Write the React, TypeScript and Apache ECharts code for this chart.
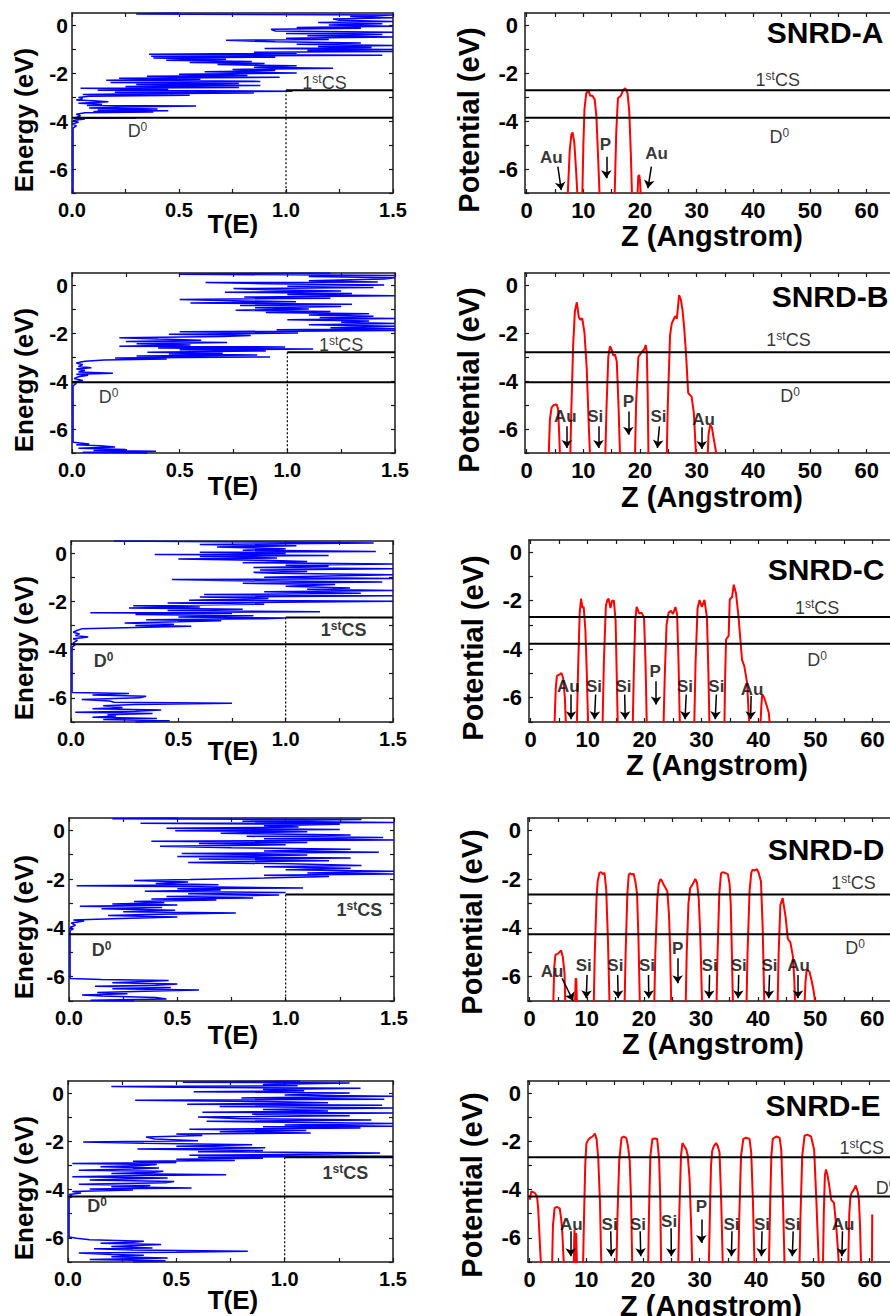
import React, { useEffect, useRef } from 'react';
import * as echarts from 'echarts';

const FONT = '"Liberation Sans", Arial, Helvetica, sans-serif';

// ---- levels (eV) per system A..E
const csLevel = [-2.72, -2.8, -2.67, -2.64, -2.66];
const d0Level = [-3.86, -4.05, -3.78, -4.26, -4.29];

// ---- tick values
const eTicks = [-6, -4, -2, 0];
const eMinor = [-7, -6, -5, -4, -3, -2, -1, 0];
const tTicks = [0, 0.5, 1, 1.5];
const tMinor = [0, 0.25, 0.5, 0.75, 1, 1.25, 1.5];
const zTicks = [0, 10, 20, 30, 40, 50, 60];
const zMinor = [0, 5, 10, 15, 20, 25, 30, 35, 40, 45, 50, 55, 60, 65];

// ---- transmission spectra [E, T]
const transA = [
  [-7.0, 0.005], [-4.3, 0.005], [-4.2, 0.02], [-4.12, 0.0], [-4.05, 0.03], [-3.98, 0.005], [-3.92, 0.06], [-3.89, 0.01],
  [-3.87, 0.3], [-3.85, 0.02], [-3.78, 0.04], [-3.72, 0.02], [-3.66, 0.06], [-3.62, 0.38], [-3.6, 0.1], [-3.57, 0.45],
  [-3.54, 0.12], [-3.5, 0.4], [-3.46, 0.08], [-3.42, 0.25], [-3.38, 0.58], [-3.35, 0.07], [-3.3, 0.14], [-3.26, 0.03],
  [-3.2, 0.17], [-3.16, 0.1], [-3.12, 0.02], [-3.06, 0.05], [-3.02, 0.03], [-2.97, 0.08], [-2.93, 0.55], [-2.9, 0.05],
  [-2.86, 0.3], [-2.83, 0.85], [-2.8, 0.2], [-2.76, 1.03], [-2.72, 0.12], [-2.68, 0.45], [-2.64, 0.04], [-2.6, 0.78],
  [-2.56, 0.25], [-2.52, 0.88], [-2.48, 0.3], [-2.44, 0.78], [-2.4, 0.18], [-2.35, 0.88], [-2.3, 0.16], [-2.26, 0.6],
  [-2.22, 0.22], [-2.18, 0.97], [-2.14, 0.35], [-2.1, 0.82], [-2.05, 0.5], [-2.0, 1.05], [-1.95, 0.62], [-1.9, 0.95],
  [-1.85, 0.75], [-1.8, 1.22], [-1.76, 0.85], [-1.7, 1.05], [-1.65, 0.68], [-1.6, 0.9], [-1.56, 0.55], [-1.52, 0.84],
  [-1.47, 0.44], [-1.43, 0.72], [-1.38, 0.38], [-1.34, 0.95], [-1.3, 0.37], [-1.26, 1.45], [-1.22, 0.36], [-1.18, 1.05],
  [-1.14, 0.85], [-1.1, 1.5], [-1.06, 1.1], [-1.02, 1.5], [-0.98, 0.9], [-0.94, 1.4], [-0.9, 1.15], [-0.85, 1.5],
  [-0.8, 1.05], [-0.75, 1.35], [-0.7, 0.95], [-0.64, 0.72], [-0.6, 1.2], [-0.55, 1.0], [-0.5, 1.5], [-0.45, 1.1],
  [-0.4, 1.45], [-0.35, 1.0], [-0.3, 1.5], [-0.25, 0.95], [-0.18, 0.93], [-0.14, 1.35], [-0.1, 1.05], [-0.05, 1.5],
  [0.0, 1.2], [0.05, 1.45], [0.1, 1.15], [0.15, 1.5], [0.2, 1.25], [0.25, 1.22], [0.3, 1.5], [0.35, 1.3],
  [0.42, 1.5], [0.46, 0.3], [0.5, 0.5],
];
const transB = [
  [-7.0, 0.35], [-6.97, 0.05], [-6.93, 0.39], [-6.9, 0.1], [-6.85, 0.25], [-6.8, 0.03], [-6.75, 0.2], [-6.7, 0.13],
  [-6.66, 0.02], [-6.62, 0.08], [-6.55, 0.005], [-4.2, 0.005], [-4.1, 0.02], [-4.05, 0.0], [-3.98, 0.05], [-3.9, 0.01],
  [-3.82, 0.03], [-3.76, 0.075], [-3.72, 0.02], [-3.68, 0.19], [-3.62, 0.03], [-3.55, 0.06], [-3.5, 0.02], [-3.45, 0.09],
  [-3.4, 0.03], [-3.32, 0.05], [-3.25, 0.02], [-3.18, 0.06], [-3.12, 0.15], [-3.08, 0.44], [-3.04, 0.2], [-3.0, 0.92],
  [-2.96, 0.3], [-2.92, 0.86], [-2.88, 0.45], [-2.84, 0.7], [-2.8, 0.35], [-2.75, 0.9], [-2.7, 0.5], [-2.67, 1.12],
  [-2.63, 0.4], [-2.58, 0.99], [-2.55, 0.22], [-2.5, 0.55], [-2.45, 0.3], [-2.4, 0.72], [-2.35, 0.25], [-2.3, 0.6],
  [-2.25, 0.4], [-2.2, 0.22], [-2.15, 0.7], [-2.1, 0.83], [-2.05, 0.45], [-2.0, 1.05], [-1.95, 0.5], [-1.9, 1.5],
  [-1.86, 0.95], [-1.82, 1.5], [-1.78, 1.2], [-1.72, 1.5], [-1.66, 1.1], [-1.6, 1.5], [-1.55, 1.25], [-1.5, 1.38],
  [-1.45, 1.0], [-1.4, 1.5], [-1.35, 1.15], [-1.3, 1.4], [-1.25, 1.1], [-1.2, 1.38], [-1.15, 0.9], [-1.1, 1.2],
  [-1.05, 0.76], [-1.0, 1.1], [-0.95, 0.85], [-0.9, 1.25], [-0.85, 0.78], [-0.8, 1.3], [-0.75, 0.55], [-0.7, 1.04],
  [-0.65, 0.7], [-0.6, 0.5], [-0.55, 1.2], [-0.5, 0.8], [-0.45, 1.5], [-0.4, 1.0], [-0.35, 1.3], [-0.3, 0.71],
  [-0.25, 1.25], [-0.2, 0.9], [-0.15, 0.75], [-0.1, 1.4], [-0.05, 1.0], [0.0, 1.45], [0.05, 0.9], [0.1, 0.62],
  [0.13, 1.42], [0.18, 1.1], [0.25, 1.45], [0.3, 1.5], [0.35, 1.1], [0.4, 1.5], [0.45, 0.5], [0.5, 1.2],
];
const transC = [
  [-7.0, 0.3], [-6.95, 0.46], [-6.9, 0.15], [-6.85, 0.4], [-6.8, 0.1], [-6.75, 0.21], [-6.7, 0.17], [-6.65, 0.38],
  [-6.6, 0.02], [-6.55, 0.3], [-6.5, 0.42], [-6.45, 0.1], [-6.4, 0.24], [-6.33, 0.15], [-6.27, 0.3], [-6.22, 0.75],
  [-6.18, 0.2], [-6.13, 0.18], [-6.07, 0.05], [-6.0, 0.32], [-5.93, 0.35], [-5.88, 0.1], [-5.82, 0.27], [-5.78, 0.005],
  [-3.9, 0.005], [-3.8, 0.02], [-3.72, 0.01], [-3.62, 0.03], [-3.55, 0.01], [-3.48, 0.08], [-3.42, 0.02], [-3.35, 0.04],
  [-3.28, 0.01], [-3.2, 0.03], [-3.14, 0.05], [-3.1, 0.2], [-3.07, 0.35], [-3.03, 0.56], [-3.0, 0.3], [-2.95, 0.48],
  [-2.9, 0.25], [-2.85, 0.5], [-2.8, 0.7], [-2.76, 0.35], [-2.72, 0.9], [-2.69, 1.0], [-2.65, 0.5], [-2.6, 0.85],
  [-2.55, 0.3], [-2.5, 0.75], [-2.47, 0.09], [-2.43, 1.16], [-2.38, 0.45], [-2.33, 0.8], [-2.28, 0.27], [-2.23, 0.6],
  [-2.18, 0.29], [-2.12, 0.9], [-2.07, 0.45], [-2.0, 1.5], [-1.95, 0.55], [-1.88, 0.92], [-1.82, 0.6], [-1.77, 1.5],
  [-1.72, 0.62], [-1.67, 1.35], [-1.6, 0.9], [-1.55, 1.5], [-1.5, 1.1], [-1.45, 1.3], [-1.38, 1.0], [-1.3, 1.23],
  [-1.25, 0.8], [-1.2, 1.45], [-1.14, 0.7], [-1.1, 0.47], [-1.05, 1.5], [-1.0, 0.9], [-0.95, 1.2], [-0.9, 1.5],
  [-0.84, 0.95], [-0.8, 0.85], [-0.76, 1.1], [-0.7, 0.88], [-0.65, 1.5], [-0.6, 0.85], [-0.55, 1.2], [-0.5, 1.0],
  [-0.45, 1.5], [-0.4, 0.8], [-0.35, 1.1], [-0.3, 0.9], [-0.25, 0.5], [-0.2, 0.96], [-0.14, 0.6], [-0.1, 1.2],
  [-0.06, 0.39], [-0.02, 1.0], [0.03, 0.6], [0.07, 1.42], [0.12, 0.8], [0.18, 1.0], [0.25, 0.68], [0.3, 1.05],
  [0.35, 0.6], [0.42, 1.41], [0.46, 0.9], [0.5, 0.2],
];
const transD = [
  [-7.0, 0.3], [-6.97, 0.1], [-6.92, 0.45], [-6.86, 0.4], [-6.8, 0.15], [-6.75, 0.06], [-6.7, 0.27], [-6.65, 0.13],
  [-6.6, 0.35], [-6.55, 0.6], [-6.5, 0.2], [-6.45, 0.47], [-6.4, 0.12], [-6.35, 0.4], [-6.3, 0.5], [-6.25, 0.2],
  [-6.2, 0.35], [-6.16, 0.46], [-6.12, 0.15], [-6.08, 0.005], [-4.1, 0.005], [-4.05, 0.02], [-3.98, 0.005], [-3.9, 0.03],
  [-3.8, 0.01], [-3.72, 0.07], [-3.68, 0.02], [-3.63, 0.2], [-3.56, 0.5], [-3.5, 0.18], [-3.45, 0.35], [-3.39, 0.77],
  [-3.34, 0.25], [-3.28, 0.49], [-3.22, 0.15], [-3.17, 0.43], [-3.12, 0.05], [-3.07, 0.5], [-3.02, 0.2], [-2.97, 0.44],
  [-2.92, 0.3], [-2.86, 0.68], [-2.82, 0.38], [-2.78, 0.85], [-2.72, 0.45], [-2.66, 0.97], [-2.6, 0.55], [-2.55, 1.0],
  [-2.5, 0.35], [-2.45, 0.7], [-2.4, 0.5], [-2.37, 1.08], [-2.32, 0.6], [-2.28, 0.035], [-2.24, 0.69], [-2.18, 0.4],
  [-2.12, 0.55], [-2.06, 0.3], [-2.02, 0.56], [-1.96, 0.9], [-1.9, 1.2], [-1.85, 0.9], [-1.8, 1.5], [-1.75, 1.1],
  [-1.68, 1.5], [-1.62, 1.0], [-1.56, 1.3], [-1.5, 0.9], [-1.45, 1.35], [-1.38, 1.02], [-1.32, 0.55], [-1.25, 1.2],
  [-1.18, 0.6], [-1.14, 1.3], [-1.08, 0.5], [-1.02, 1.1], [-0.96, 0.52], [-0.9, 1.43], [-0.85, 0.9], [-0.78, 1.3],
  [-0.72, 0.75], [-0.66, 0.42], [-0.6, 1.0], [-0.55, 0.6], [-0.5, 1.1], [-0.45, 0.38], [-0.4, 1.5], [-0.35, 0.9],
  [-0.3, 1.45], [-0.25, 0.82], [-0.2, 1.3], [-0.12, 0.7], [-0.06, 1.1], [-0.02, 0.49], [0.03, 1.25], [0.08, 0.45],
  [0.13, 1.06], [0.18, 0.9], [0.24, 1.25], [0.28, 0.33], [0.32, 1.5], [0.37, 0.8], [0.44, 1.35], [0.47, 0.2], [0.5, 0.5],
];
const transE = [
  [-7.0, 0.3], [-6.95, 0.45], [-6.9, 0.1], [-6.83, 0.46], [-6.78, 0.2], [-6.72, 0.35], [-6.69, 0.2], [-6.63, 0.05],
  [-6.6, 0.5], [-6.55, 0.83], [-6.5, 0.3], [-6.45, 0.12], [-6.42, 0.39], [-6.36, 0.2], [-6.28, 0.43], [-6.22, 0.15],
  [-6.18, 0.3], [-6.14, 0.35], [-6.08, 0.1], [-6.02, 0.04], [-5.96, 0.005], [-4.35, 0.005], [-4.28, 0.02], [-4.2, 0.005],
  [-4.14, 0.06], [-4.08, 0.02], [-4.02, 0.3], [-3.98, 0.1], [-3.93, 0.57], [-3.88, 0.2], [-3.83, 0.38], [-3.78, 0.05],
  [-3.72, 0.45], [-3.66, 0.49], [-3.6, 0.1], [-3.55, 0.3], [-3.52, 0.46], [-3.47, 0.02], [-3.42, 0.35], [-3.38, 0.73],
  [-3.33, 0.2], [-3.28, 0.4], [-3.24, 0.44], [-3.2, 0.05], [-3.15, 0.3], [-3.1, 0.42], [-3.05, 0.15], [-3.0, 0.35],
  [-2.96, 0.41], [-2.92, 0.02], [-2.88, 0.5], [-2.83, 0.3], [-2.79, 0.77], [-2.74, 0.5], [-2.7, 0.9], [-2.66, 0.6],
  [-2.62, 1.5], [-2.58, 0.56], [-2.53, 1.2], [-2.48, 1.44], [-2.43, 0.6], [-2.38, 0.9], [-2.32, 0.32], [-2.27, 0.91],
  [-2.2, 0.5], [-2.14, 0.85], [-2.08, 0.35], [-2.03, 0.07], [-1.98, 0.6], [-1.9, 0.4], [-1.82, 0.36], [-1.76, 0.62],
  [-1.7, 0.5], [-1.65, 1.12], [-1.6, 0.7], [-1.55, 1.1], [-1.5, 0.56], [-1.45, 1.35], [-1.4, 0.9], [-1.38, 1.5],
  [-1.32, 1.0], [-1.26, 1.5], [-1.2, 0.9], [-1.17, 0.64], [-1.12, 1.4], [-1.06, 0.8], [-0.99, 0.6], [-0.94, 1.3],
  [-0.88, 0.85], [-0.83, 1.5], [-0.8, 0.62], [-0.74, 1.2], [-0.68, 0.9], [-0.62, 1.5], [-0.56, 0.7], [-0.5, 1.45],
  [-0.46, 0.55], [-0.4, 1.2], [-0.35, 0.9], [-0.3, 0.31], [-0.26, 1.46], [-0.2, 0.8], [-0.13, 1.5], [-0.08, 1.0],
  [0.0, 1.3], [0.05, 0.58], [0.1, 1.09], [0.15, 0.9], [0.2, 1.35], [0.24, 0.5], [0.27, 0.2], [0.3, 1.06],
  [0.36, 0.9], [0.42, 1.3], [0.45, 0.53], [0.5, 1.07],
];

// ---- potential profiles [Z, V]
const potA = [
  [7.2, -7.3], [7.6, -5.2], [7.9, -4.55], [8.1, -4.48], [8.4, -4.9], [8.7, -6.0], [9.0, -7.3],
  [9.8, -7.3], [10.0, -5.0], [10.2, -3.5], [10.5, -2.85], [10.9, -2.72], [11.2, -2.95], [11.6, -2.95], [12.0, -3.1],
  [12.3, -3.8], [12.6, -5.5], [12.9, -7.3],
  [15.5, -7.3], [15.8, -4.5], [16.1, -3.05], [16.6, -2.95], [17.0, -2.72], [17.4, -2.63], [17.8, -2.85], [18.1, -3.6],
  [18.4, -5.5], [18.6, -7.3],
  [19.5, -7.3], [19.7, -6.3], [19.85, -6.25], [20.0, -6.5], [20.15, -7.3],
];
const potB = [
  [3.85, -7.3], [4.1, -5.6], [4.4, -5.1], [4.8, -5.0], [5.3, -4.98], [5.55, -5.2], [5.75, -6.3], [5.9, -7.3],
  [7.67, -7.3], [7.9, -5.0], [8.2, -2.5], [8.5, -1.1], [8.85, -0.72], [9.2, -1.35], [9.5, -1.45], [9.8, -1.38],
  [10.2, -2.0], [10.6, -3.5], [10.9, -5.5], [11.2, -7.3],
  [13.85, -7.3], [14.1, -5.0], [14.4, -3.0], [14.7, -2.55], [15.0, -2.7], [15.3, -2.95], [15.6, -2.9], [15.9, -3.2],
  [16.2, -5.0], [16.5, -7.3],
  [19.1, -7.3], [19.3, -5.0], [19.7, -3.0], [20.3, -2.8], [20.7, -2.7], [21.0, -2.5], [21.2, -2.8], [21.35, -4.5], [21.5, -7.3],
  [24.7, -7.3], [24.9, -5.0], [25.3, -2.1], [25.6, -1.6], [25.9, -1.45], [26.2, -1.3], [26.5, -1.4], [26.9, -0.42],
  [27.2, -0.6], [27.5, -1.05], [27.8, -1.8], [28.1, -2.8], [28.5, -4.5], [29.1, -4.65], [29.5, -5.34], [29.8, -6.7], [29.9, -7.3],
  [31.9, -7.3], [32.1, -6.2], [32.4, -5.82], [32.7, -5.95], [33.0, -6.4], [33.3, -6.8], [33.6, -7.3],
];
const potC = [
  [4.15, -7.3], [4.4, -5.6], [4.6, -5.1], [5.0, -5.05], [5.4, -4.98], [5.7, -5.2], [6.0, -6.0], [6.2, -7.3],
  [8.08, -7.3], [8.3, -5.0], [8.6, -2.5], [8.84, -1.92], [9.1, -2.3], [9.3, -2.25], [9.6, -3.2], [9.85, -5.0], [10.1, -7.3],
  [12.6, -7.3], [12.85, -4.5], [13.2, -2.2], [13.5, -1.95], [13.7, -1.93], [14.0, -2.3], [14.3, -2.0], [14.6, -2.0],
  [14.9, -2.8], [15.1, -5.0], [15.3, -7.3],
  [17.9, -7.3], [18.1, -5.0], [18.35, -2.8], [18.6, -2.26], [18.85, -2.4], [19.05, -2.53], [19.5, -2.5], [19.9, -2.7],
  [20.15, -4.5], [20.4, -7.3],
  [23.3, -7.3], [23.55, -5.0], [23.85, -3.0], [24.2, -2.5], [24.6, -2.42], [25.0, -2.55], [25.4, -2.26], [25.7, -2.55],
  [25.95, -4.5], [26.2, -7.3],
  [28.7, -7.3], [28.95, -4.5], [29.3, -2.3], [29.65, -1.97], [30.05, -2.26], [30.5, -1.97], [30.95, -2.7], [31.2, -5.0], [31.4, -7.3],
  [34.0, -7.3], [34.15, -5.0], [34.3, -3.6], [34.75, -3.45], [34.95, -1.95], [35.35, -1.85], [35.65, -1.34], [36.05, -1.7],
  [36.5, -2.7], [37.1, -4.43], [37.5, -4.7], [38.0, -5.4], [38.4, -7.3],
  [40.3, -7.3], [40.5, -6.3], [40.65, -5.86], [41.0, -6.0], [41.4, -6.3], [41.8, -6.62], [42.05, -7.3],
];
const potD = [
  [4.1, -7.3], [4.3, -5.6], [4.5, -5.11], [5.0, -5.05], [5.5, -4.93], [5.8, -5.2], [6.1, -5.86], [6.25, -7.3],
  [7.9, -7.3], [8.05, -6.07], [8.15, -6.1], [8.3, -7.3],
  [11.2, -7.3], [11.4, -5.0], [11.7, -2.8], [11.9, -2.1], [12.2, -1.75], [12.5, -1.72], [12.8, -1.8], [13.1, -1.75],
  [13.4, -2.44], [13.7, -4.5], [14.0, -7.3],
  [16.6, -7.3], [16.8, -5.0], [17.1, -2.6], [17.35, -1.82], [17.6, -1.76], [17.9, -1.82], [18.2, -1.78], [18.5, -2.1],
  [18.8, -2.6], [19.05, -4.5], [19.3, -7.3],
  [21.8, -7.3], [22.0, -5.0], [22.35, -2.8], [22.6, -2.2], [22.9, -2.0], [23.2, -2.1], [23.5, -2.25], [24.1, -2.5],
  [24.4, -3.5], [24.6, -5.0], [24.8, -7.3],
  [27.3, -7.3], [27.5, -5.0], [27.8, -3.0], [28.1, -2.37], [28.5, -2.23], [29.0, -2.0], [29.3, -2.15], [29.6, -2.8],
  [29.9, -4.5], [30.2, -7.3],
  [32.7, -7.3], [32.9, -5.0], [33.2, -2.6], [33.5, -1.78], [33.8, -1.72], [34.2, -1.75], [34.7, -1.8], [35.0, -2.2],
  [35.2, -3.0], [35.4, -5.0], [35.6, -7.3],
  [37.95, -7.3], [38.15, -5.0], [38.5, -2.5], [38.8, -1.75], [39.0, -1.62], [39.4, -1.65], [39.8, -1.6], [40.1, -1.75],
  [40.5, -2.1], [40.8, -4.0], [41.1, -7.3],
  [43.4, -7.3], [43.6, -5.0], [43.9, -3.06], [44.3, -2.78], [44.8, -3.53], [45.2, -4.45], [45.65, -4.6], [46.1, -5.18],
  [46.35, -6.2], [46.5, -7.3],
  [48.1, -7.3], [48.3, -6.2], [48.5, -5.73], [49.0, -5.8], [49.4, -6.2], [49.7, -6.55], [50.15, -7.3],
];
const potE = [
  [0.0, -4.42], [0.3, -4.07], [0.9, -4.14], [1.3, -4.28], [1.5, -4.8], [1.65, -5.52], [1.85, -6.5], [2.06, -7.3],
  [3.94, -7.3], [4.1, -5.5], [4.4, -4.76], [4.8, -4.72], [5.3, -4.78], [5.55, -5.2], [5.76, -5.79], [6.06, -7.3],
  [7.75, -7.3], [7.9, -5.65], [8.05, -7.3], [8.2, -5.8], [8.35, -7.3],
  [9.4, -7.3], [9.6, -5.0], [9.8, -3.0], [10.0, -2.1], [10.3, -1.95], [10.6, -1.87], [11.1, -1.8], [11.5, -1.68],
  [11.8, -1.9], [12.1, -2.7], [12.4, -4.5], [12.65, -7.3],
  [15.3, -7.3], [15.5, -5.0], [15.8, -2.8], [16.2, -1.86], [16.6, -1.8], [17.05, -1.86], [17.35, -2.2], [17.65, -2.8],
  [17.9, -4.5], [18.1, -7.3],
  [20.9, -7.3], [21.05, -5.0], [21.3, -2.6], [21.65, -1.9], [22.1, -1.88], [22.5, -1.9], [22.85, -2.76], [23.05, -4.5], [23.2, -7.3],
  [26.2, -7.3], [26.4, -5.0], [26.7, -2.6], [26.95, -2.07], [27.3, -2.2], [27.65, -2.35], [27.9, -2.6], [28.2, -3.5],
  [28.5, -5.5], [28.7, -7.3],
  [31.6, -7.3], [31.8, -5.0], [32.0, -3.0], [32.2, -2.4], [32.5, -2.2], [32.9, -2.07], [33.2, -2.2], [33.5, -2.45],
  [33.8, -4.5], [34.1, -7.3],
  [36.8, -7.3], [37.0, -5.0], [37.3, -2.6], [37.7, -1.9], [38.2, -1.85], [38.8, -1.9], [39.1, -2.48], [39.4, -4.5], [39.7, -7.3],
  [42.2, -7.3], [42.4, -5.0], [42.65, -2.6], [42.9, -1.9], [43.5, -1.8], [44.1, -1.85], [44.4, -2.35], [44.7, -4.5], [45.0, -7.3],
  [47.6, -7.3], [47.8, -5.0], [48.1, -2.6], [48.5, -1.77], [49.0, -1.72], [49.65, -1.8], [50.2, -2.35], [50.6, -4.5], [51.05, -7.3],
  [51.75, -7.3], [51.9, -5.0], [52.1, -3.4], [52.3, -3.17], [52.55, -3.4], [52.8, -3.73], [53.2, -4.42], [53.7, -4.55],
  [54.1, -5.52], [54.4, -6.5], [54.6, -7.3],
  [56.2, -7.3], [56.4, -5.0], [56.6, -4.3], [56.8, -4.14], [57.2, -4.0], [57.55, -3.83], [57.9, -4.1], [58.1, -4.42],
  [58.3, -5.5], [58.5, -7.3],
  [60.4, -7.3], [60.45, -5.03],
];

// ---- atom annotations (label position and arrow start/end) per panel
const atomsA = ['Au', 'P', 'Au'];
const atomPosA = [[4.35, -5.51], [13.9, -4.96], [22.9, -5.35]];
const arrowsA = [[5.5, -5.9, 6.1, -6.88], [14.05, -5.49, 14.05, -6.39], [22.0, -5.9, 21.4, -6.8]];
const atomsB = ['Au', 'Si', 'P', 'Si', 'Au'];
const atomPosB = [[6.8, -5.48], [12.1, -5.47], [17.95, -4.85], [23.25, -5.47], [31.2, -5.61]];
const arrowsB = [[7.09, -5.89, 7.09, -6.79], [12.67, -5.89, 12.67, -6.79], [17.95, -5.27, 17.95, -6.24],
  [23.42, -5.89, 23.07, -6.79], [30.9, -5.93, 30.9, -6.83]];
const atomsC = ['Au', 'Si', 'Si', 'P', 'Si', 'Si', 'Au'];
const atomPosC = [[6.6, -5.52], [11.1, -5.52], [16.3, -5.52], [21.85, -4.91], [27.1, -5.52], [32.6, -5.52], [38.85, -5.66]];
const arrowsC = [[7.08, -5.87, 7.08, -6.89], [11.4, -5.87, 11.2, -6.89], [16.5, -5.87, 16.6, -6.89], [22.0, -5.32, 22.0, -6.28],
  [27.3, -5.87, 27.1, -6.89], [32.6, -5.87, 32.4, -6.89], [38.7, -5.93, 38.6, -6.89]];
const atomsD = ['Au', 'Si', 'Si', 'Si', 'P', 'Si', 'Si', 'Si', 'Au'];
const atomPosD = [[3.92, -5.8], [9.46, -5.56], [15.0, -5.56], [20.55, -5.56], [25.9, -4.83], [31.5, -5.56], [36.6, -5.56],
  [42.0, -5.56], [47.1, -5.56]];
const arrowsD = [[5.67, -6.07, 7.6, -6.99], [10.05, -5.93, 9.9, -6.89], [15.4, -5.93, 15.5, -6.89], [20.8, -5.93, 20.85, -6.89],
  [25.9, -5.25, 25.9, -6.27], [31.5, -5.93, 31.4, -6.89], [36.6, -5.93, 36.5, -6.89], [42.0, -5.93, 41.85, -6.89],
  [47.0, -5.93, 46.95, -6.89]];
const atomsE = ['Au', 'Si', 'Si', 'Si', 'P', 'Si', 'Si', 'Si', 'Au'];
const atomPosE = [[7.35, -5.45], [14.1, -5.45], [19.1, -5.45], [24.6, -5.31], [30.3, -4.69], [35.6, -5.45], [41.0, -5.45],
  [46.35, -5.45], [55.3, -5.45]];
const arrowsE = [[7.24, -5.73, 7.24, -6.76], [14.3, -5.73, 14.4, -6.76], [19.5, -5.73, 19.6, -6.76], [24.95, -5.6, 25.0, -6.76],
  [30.3, -5.24, 30.3, -6.21], [35.7, -5.73, 35.6, -6.76], [41.0, -5.73, 40.9, -6.76], [46.5, -5.73, 46.35, -6.76],
  [55.2, -5.73, 55.1, -6.76]];

// ---- level label positions
const csLabelLeft = [[1.18, -2.42], [1.25, -2.49], [1.27, -3.17], [1.34, -3.28], [1.28, -3.31]];
const d0LabelLeft = [[0.306, -4.42], [0.17, -4.67], [0.152, -4.46], [0.15, -4.9], [0.134, -4.69]];
const csLabelRight = [[44.3, -2.29], [46.2, -2.29], [50.3, -2.3], [56.7, -2.16], [58.6, -2.28]];
const d0LabelRight = [[44.6, -4.65], [46.5, -4.64], [50.3, -4.43], [57.0, -4.83], [62.8, -3.93]];
const panelNames = ['SNRD-A', 'SNRD-B', 'SNRD-C', 'SNRD-D', 'SNRD-E'];

const transAll = [transA, transB, transC, transD, transE];
const potAll = [potA, potB, potC, potD, potE];
const atomsAll = [atomsA, atomsB, atomsC, atomsD, atomsE];
const atomPosAll = [atomPosA, atomPosB, atomPosC, atomPosD, atomPosE];
const arrowsAll = [arrowsA, arrowsB, arrowsC, arrowsD, arrowsE];

// ---- layout (pixels)
const leftGrids = [
  { left: 72, top: 13, width: 321, height: 180 },
  { left: 72, top: 273, width: 323, height: 180 },
  { left: 71, top: 541, width: 322, height: 181 },
  { left: 69, top: 818, width: 325, height: 183 },
  { left: 68, top: 1081, width: 325, height: 181 },
];
const rightGrids = [
  { left: 525, top: 13, width: 387, height: 180 },
  { left: 525, top: 273, width: 387, height: 180 },
  { left: 529, top: 540, width: 389, height: 182 },
  { left: 528, top: 818, width: 390, height: 183 },
  { left: 528, top: 1081, width: 387, height: 181 },
];
const Z_MIN = -0.3;
const Z_MAX = 68;
const boldLeft = [false, false, true, true, true];
const leftYTitleY = [120, 380, 648, 927, 1188];
const leftXTitleY = [224, 486, 751, 1035, 1300];
const rightYTitle = [[469, 120], [469, 380], [473, 648], [472, 922], [472, 1185]];
const rightXTitle = [[712, 236], [712, 497], [717, 765], [713, 1044], [711, 1306]];
const titlePos = [[825, 32], [830, 296], [826, 569], [826, 849], [823, 1105]];

const AX = '#1a1a1a';

function makeAxis(g, pos, min, max, ticks, minor, fmt, fontSize, showLabel, margin) {
  return {
    type: 'value', gridIndex: g, position: pos, min, max,
    axisLine: { show: true, onZero: false, lineStyle: { color: AX, width: 1.5 } },
    axisTick: { show: true, inside: true, length: 4, customValues: minor, lineStyle: { color: AX, width: 1.2 } },
    axisLabel: {
      show: showLabel, customValues: ticks, formatter: fmt, fontSize, fontWeight: 'bold',
      fontFamily: FONT, color: '#000', margin,
    },
    splitLine: { show: false },
    minorTick: { show: false },
  };
}

const richStyles = {
  n: { fontSize: 18, fontFamily: FONT, color: '#000', lineHeight: 20 },
  s: { fontSize: 12, fontFamily: FONT, color: '#000', verticalAlign: 'top', lineHeight: 12 },
  nb: { fontSize: 18, fontFamily: FONT, color: '#000', fontWeight: 'bold', lineHeight: 20 },
  sb: { fontSize: 12, fontFamily: FONT, color: '#000', fontWeight: 'bold', verticalAlign: 'top', lineHeight: 12 },
  a: { fontSize: 17, fontFamily: FONT, color: '#000', fontWeight: 'bold' },
};

function buildOption() {
  const grid = [];
  const xAxis = [];
  const yAxis = [];
  const series = [];
  const graphic = [];
  for (let r = 0; r < 5; r++) {
    const gl = 2 * r;
    const gr = 2 * r + 1;
    grid.push({ ...leftGrids[r], containLabel: false });
    grid.push({ ...rightGrids[r], containLabel: false });
    xAxis.push(makeAxis(gl, 'bottom', 0, 1.5, tTicks, tMinor, (v) => v.toFixed(1), 20, true, 7));
    xAxis.push(makeAxis(gl, 'top', 0, 1.5, tTicks, tMinor, null, 20, false, 7));
    yAxis.push(makeAxis(gl, 'left', -7, 0.5, eTicks, eMinor, (v) => String(v), 21, true, 4));
    yAxis.push(makeAxis(gl, 'right', -7, 0.5, eTicks, eMinor, null, 21, false, 4));
    xAxis.push(makeAxis(gr, 'bottom', Z_MIN, Z_MAX, zTicks, zMinor, (v) => String(v), 22, true, 6));
    xAxis.push(makeAxis(gr, 'top', Z_MIN, Z_MAX, zTicks, zMinor, null, 22, false, 6));
    yAxis.push(makeAxis(gr, 'left', -7, 0.5, eTicks, eMinor, (v) => String(v), 22, true, 7));
    yAxis.push(makeAxis(gr, 'right', -7, 0.5, eTicks, eMinor, null, 22, false, 7));

    const lx = 2 * gl; const ly = 2 * gl;
    const rx = 2 * gr; const ry = 2 * gr;
    const cs = csLevel[r];
    const d0 = d0Level[r];

    series.push({
      type: 'line', xAxisIndex: lx, yAxisIndex: ly, symbol: 'none', silent: true, clip: true, z: 3,
      lineStyle: { color: '#0000ff', width: 1.5 },
      data: transAll[r].map(([e, t]) => [t, e]),
    });
    series.push({
      type: 'line', xAxisIndex: lx, yAxisIndex: ly, symbol: 'none', silent: true, z: 4,
      lineStyle: { color: '#000', width: 2 }, data: [[0, d0], [1.5, d0]],
    });
    series.push({
      type: 'line', xAxisIndex: lx, yAxisIndex: ly, symbol: 'none', silent: true, z: 4,
      lineStyle: { color: '#000', width: 2 }, data: [[1.0, cs], [1.5, cs]],
    });
    series.push({
      type: 'line', xAxisIndex: lx, yAxisIndex: ly, symbol: 'none', silent: true, z: 4,
      lineStyle: { color: '#000', width: 1.2, type: [2, 2] }, data: [[1.0, cs], [1.0, -7]],
    });
    const nb = boldLeft[r] ? 'nb' : 'n';
    const sb = boldLeft[r] ? 'sb' : 's';
    series.push({
      type: 'scatter', xAxisIndex: lx, yAxisIndex: ly, symbolSize: 1, silent: true, z: 5,
      itemStyle: { color: 'rgba(0,0,0,0)' },
      label: { show: true, position: 'inside', formatter: (p) => p.data.txt, rich: richStyles },
      data: [
        { value: csLabelLeft[r], txt: `{${nb}|1}{${sb}|st}{${nb}|CS}` },
        { value: d0LabelLeft[r], txt: `{${nb}|D}{${sb}|0}` },
      ],
    });

    series.push({
      type: 'line', xAxisIndex: rx, yAxisIndex: ry, symbol: 'none', silent: true, z: 3,
      lineStyle: { color: '#ff0000', width: 2 },
      data: potAll[r],
      markLine: {
        silent: true, symbol: ['none', 'arrow'], symbolSize: 8, animation: false,
        label: { show: false },
        lineStyle: { color: '#000', width: 1.5, type: 'solid' },
        data: arrowsAll[r].map((a) => [{ coord: [a[0], a[1]] }, { coord: [a[2], a[3]] }]),
      },
    });
    series.push({
      type: 'line', xAxisIndex: rx, yAxisIndex: ry, symbol: 'none', silent: true, z: 4,
      lineStyle: { color: '#000', width: 2 }, data: [[Z_MIN, cs], [Z_MAX, cs]],
    });
    series.push({
      type: 'line', xAxisIndex: rx, yAxisIndex: ry, symbol: 'none', silent: true, z: 4,
      lineStyle: { color: '#000', width: 2 }, data: [[Z_MIN, d0], [Z_MAX, d0]],
    });
    const rightLabels = atomsAll[r].map((name, i) => ({ value: atomPosAll[r][i], txt: `{a|${name}}` }));
    rightLabels.push({ value: csLabelRight[r], txt: '{n|1}{s|st}{n|CS}' });
    rightLabels.push({ value: d0LabelRight[r], txt: '{n|D}{s|0}' });
    series.push({
      type: 'scatter', xAxisIndex: rx, yAxisIndex: ry, symbolSize: 1, silent: true, z: 5,
      itemStyle: { color: 'rgba(0,0,0,0)' },
      label: { show: true, position: 'inside', formatter: (p) => p.data.txt, rich: richStyles },
      data: rightLabels,
    });

    graphic.push({
      type: 'text', x: 24, y: leftYTitleY[r], rotation: Math.PI / 2, silent: true,
      style: { text: 'Energy (eV)', fill: '#000', font: `bold 26px ${FONT}`, align: 'center', verticalAlign: 'middle' },
    });
    graphic.push({
      type: 'text', x: 233, y: leftXTitleY[r], silent: true,
      style: { text: 'T(E)', fill: '#000', font: `bold 26px ${FONT}`, align: 'center', verticalAlign: 'middle' },
    });
    graphic.push({
      type: 'text', x: rightYTitle[r][0], y: rightYTitle[r][1], rotation: Math.PI / 2, silent: true,
      style: { text: 'Potential (eV)', fill: '#000', font: `bold 29px ${FONT}`, align: 'center', verticalAlign: 'middle' },
    });
    graphic.push({
      type: 'text', x: rightXTitle[r][0], y: rightXTitle[r][1], silent: true,
      style: { text: 'Z (Angstrom)', fill: '#000', font: `bold 29px ${FONT}`, align: 'center', verticalAlign: 'middle' },
    });
    graphic.push({
      type: 'text', x: titlePos[r][0], y: titlePos[r][1], silent: true, z: 10,
      style: { text: panelNames[r], fill: '#000', font: `bold 30px ${FONT}`, align: 'center', verticalAlign: 'middle' },
    });
  }
  return {
    animation: false,
    backgroundColor: '#ffffff',
    textStyle: { fontFamily: FONT },
    grid, xAxis, yAxis, series, graphic,
  };
}

export default function App() {
  const ref = useRef<HTMLDivElement>(null);
  useEffect(() => {
    if (!ref.current) return;
    const chart = echarts.init(ref.current, null, { renderer: 'svg' });
    chart.setOption(buildOption());
    return () => chart.dispose();
  }, []);
  return (
    <div style={{ position: 'absolute', left: 0, top: 0, width: 890, height: 1316, overflow: 'hidden', background: '#fff' }}>
      <div ref={ref} style={{ width: 940, height: 1316 }} />
    </div>
  );
}
